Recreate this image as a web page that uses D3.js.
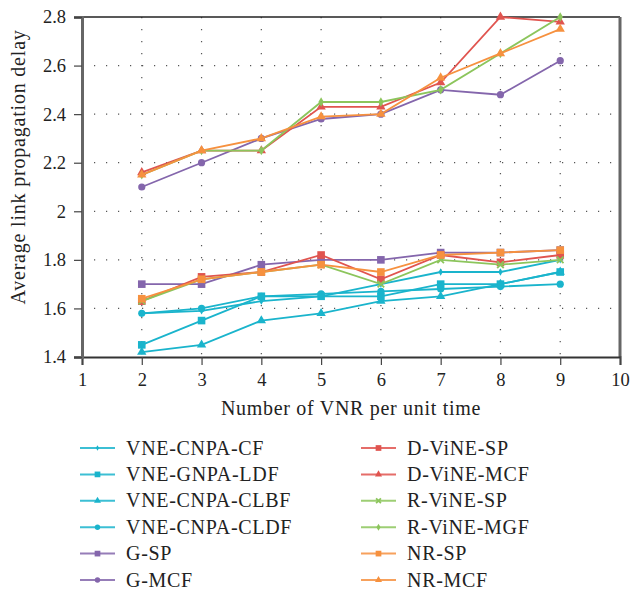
<!DOCTYPE html>
<html><head><meta charset="utf-8">
<script src="https://cdn.jsdelivr.net/npm/d3@7"></script>
<style>body{margin:0;background:#fff}svg{display:block}</style>
</head><body><div id="chart"></div>
<script>
const xValues = [2, 3, 4, 5, 6, 7, 8, 9];
const xTicks = [1, 2, 3, 4, 5, 6, 7, 8, 9, 10];
const yTicks = [1.4, 1.6, 1.8, 2.0, 2.2, 2.4, 2.6, 2.8];
const seriesNames = ["VNE-CNPA-CF","VNE-GNPA-LDF","VNE-CNPA-CLBF","VNE-CNPA-CLDF","G-SP","G-MCF","D-ViNE-SP","D-ViNE-MCF","R-ViNE-SP","R-ViNE-MGF","NR-SP","NR-MCF"];
const vneCnpaCf   = [1.58, 1.59, 1.63, 1.65, 1.70, 1.75, 1.75, 1.80];
const vneGnpaLdf  = [1.45, 1.55, 1.65, 1.65, 1.65, 1.70, 1.70, 1.75];
const vneCnpaClbf = [1.42, 1.45, 1.55, 1.58, 1.63, 1.65, 1.70, 1.75];
const vneCnpaCldf = [1.58, 1.60, 1.65, 1.66, 1.67, 1.68, 1.69, 1.70];
const gSp         = [1.70, 1.70, 1.78, 1.80, 1.80, 1.83, 1.83, 1.84];
const gMcf        = [2.10, 2.20, 2.30, 2.38, 2.40, 2.50, 2.48, 2.62];
const dVineSp     = [1.63, 1.73, 1.75, 1.82, 1.72, 1.82, 1.79, 1.82];
const dVineMcf    = [2.16, 2.25, 2.25, 2.43, 2.43, 2.53, 2.80, 2.78];
const rVineSp     = [1.63, 1.72, 1.75, 1.78, 1.70, 1.80, 1.78, 1.80];
const rVineMgf    = [2.15, 2.25, 2.25, 2.45, 2.45, 2.50, 2.65, 2.80];
const nrSp        = [1.64, 1.72, 1.75, 1.78, 1.75, 1.82, 1.83, 1.84];
const nrMcf       = [2.15, 2.25, 2.30, 2.39, 2.40, 2.55, 2.65, 2.75];
const seriesValues = [vneCnpaCf, vneGnpaLdf, vneCnpaClbf, vneCnpaCldf, gSp, gMcf, dVineSp, dVineMcf, rVineSp, rVineMgf, nrSp, nrMcf];

const cyan = "#1ab4cc", purple = "#8466ac", red = "#e0544f", green = "#8cc55c", orange = "#f6913f";
const colors = [cyan, cyan, cyan, cyan, purple, purple, red, red, green, green, orange, orange];
const markers = ["smalldiamond","square","triangle","circle","square","circle","square","triangle","cross","diamond","square","triangle"];

const W = 632, H = 592;
const m = {l: 82, t: 17, r: 12, b: 235};
const iw = W - m.l - m.r, ih = H - m.t - m.b;
const font = "'Liberation Serif', 'Times New Roman', serif";

const svg = d3.select("#chart").append("svg").attr("width", W).attr("height", H);
const g = svg.append("g").attr("transform", `translate(${m.l},${m.t})`);
const x = d3.scaleLinear().domain([1, 10]).range([0, iw]);
const y = d3.scaleLinear().domain([1.4, 2.8]).range([ih, 0]);

// grid
g.append("g").selectAll("line").data(yTicks.slice(1, -1)).join("line")
  .attr("x1", 0).attr("x2", iw).attr("y1", d => y(d)).attr("y2", d => y(d))
  .attr("stroke", "#555").attr("stroke-width", 1.2).attr("stroke-dasharray", "1.2,10.8");
g.append("g").selectAll("line").data(xTicks.slice(1, -1)).join("line")
  .attr("y1", 0).attr("y2", ih).attr("x1", d => x(d)).attr("x2", d => x(d))
  .attr("stroke", "#555").attr("stroke-width", 1.2).attr("stroke-dasharray", "1.2,10.8");

// frame
g.append("line").attr("x1", 0).attr("x2", iw).attr("y1", 0).attr("y2", 0).attr("stroke", "#222").attr("stroke-width", 1.5);
g.append("line").attr("x1", iw).attr("x2", iw).attr("y1", 0).attr("y2", ih).attr("stroke", "#666").attr("stroke-width", 3);

// axes
const xAxis = g.append("g").attr("transform", `translate(0,${ih})`)
  .call(d3.axisBottom(x).tickValues(xTicks).tickFormat(d3.format("d")).tickSize(8).tickPadding(8));
const yAxis = g.append("g")
  .call(d3.axisLeft(y).tickValues(yTicks).tickFormat(d => d === 2 ? "2" : d3.format(".1f")(d)).tickSize(8).tickPadding(8));
xAxis.select(".domain").attr("stroke", "#333").attr("stroke-width", 2);
yAxis.select(".domain").attr("stroke", "#666").attr("stroke-width", 3);
[xAxis, yAxis].forEach(a => {
  a.selectAll(".tick line").attr("stroke", "#444").attr("stroke-width", 1.2);
  a.selectAll("text").attr("font-family", font).attr("font-size", 18.5).attr("fill", "#222");
});

// axis titles
svg.append("text").attr("x", m.l + iw / 2).attr("y", 415).attr("text-anchor", "middle")
  .attr("font-family", font).attr("font-size", 20).attr("letter-spacing", 0.7).attr("fill", "#222").text("Number of VNR per unit time");
svg.append("text").attr("transform", `translate(25,${m.t + ih / 2 - 20}) rotate(-90)`).attr("text-anchor", "middle")
  .attr("font-family", font).attr("font-size", 20).attr("letter-spacing", 0.8).attr("fill", "#222").text("Average link propagation delay");

function drawMarker(sel, type, color, s) {
  if (type === "circle") sel.append("circle").attr("r", 3.6 * s).attr("fill", color);
  else if (type === "square") sel.append("rect").attr("x", -3.8 * s).attr("y", -3.8 * s).attr("width", 7.6 * s).attr("height", 7.6 * s).attr("fill", color);
  else if (type === "triangle") sel.append("path").attr("d", d3.symbol(d3.symbolTriangle, 38 * s * s)()).attr("fill", color);
  else if (type === "diamond") sel.append("path").attr("d", d3.symbol(d3.symbolDiamond, 26 * s * s)()).attr("fill", color);
  else if (type === "smalldiamond") sel.append("path").attr("d", d3.symbol(d3.symbolDiamond, 16 * s * s)()).attr("fill", color);
  else if (type === "cross") sel.append("path").attr("d", d3.symbol(d3.symbolX, 30 * s * s)()).attr("stroke", color).attr("stroke-width", 1.8).attr("fill", "none");
}

const line = d3.line().x((d, i) => x(xValues[i])).y(d => y(d));
seriesValues.forEach((vals, k) => {
  const sg = g.append("g");
  sg.append("path").attr("d", line(vals)).attr("fill", "none").attr("stroke", colors[k]).attr("stroke-width", 1.8);
  vals.forEach((v, i) => {
    const mg = sg.append("g").attr("transform", `translate(${x(xValues[i])},${y(v)})`);
    drawMarker(mg, markers[k], colors[k], 1);
  });
});

// legend
const legend = svg.append("g");
seriesNames.forEach((name, k) => {
  const col = k < 6 ? 0 : 1, row = k % 6;
  const lx = col === 0 ? 80 : 361, cy = 448 + row * 26.4;
  const lg = legend.append("g").attr("transform", `translate(${lx},${cy})`);
  lg.append("line").attr("x1", 0).attr("x2", 35).attr("stroke", colors[k]).attr("stroke-width", 2).attr("stroke-opacity", 0.85);
  const mg = lg.append("g").attr("transform", "translate(17.5,0)");
  drawMarker(mg, markers[k], colors[k], 0.75);
  lg.append("text").attr("x", 46).attr("y", 6.5).attr("font-family", font).attr("font-size", 20).attr("letter-spacing", 0.7).attr("fill", "#222").text(name);
});
</script></body></html>
